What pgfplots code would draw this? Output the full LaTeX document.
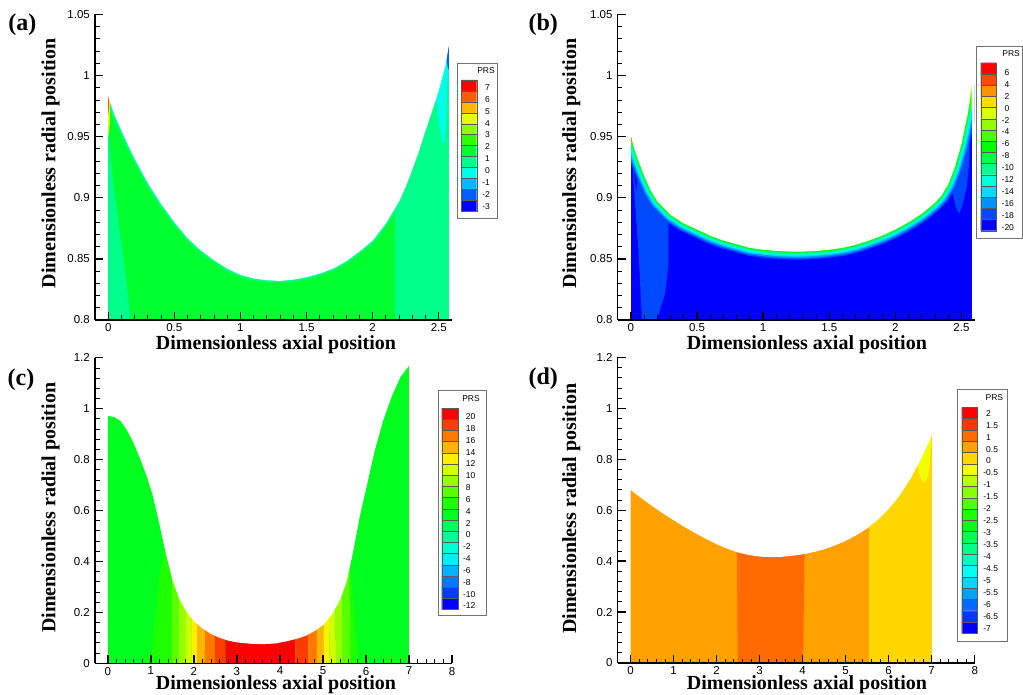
\documentclass[border=0pt]{standalone}
\usepackage{fontspec}
\setmainfont{Liberation Sans}
\newfontfamily\tnr{Liberation Serif}
\usepackage{pgfplots}
\usepackage{pgfplotstable}
\pgfplotsset{compat=1.18}

\newcommand\defcmap[2]{%
  \pgfplotsforeachungrouped \ii in {1,...,#2}{%
    \pgfmathsetmacro\hh{(\ii-1)*240/(#2-1)}%
    \convertcolorspec{Hsb}{\hh,1,1}{rgb}\tmprgb
    \definecolor{#1\ii}{rgb}{\tmprgb}%
  }%
}
\defcmap{A}{12}
\defcmap{B}{15}
\defcmap{C}{18}
\defcmap{D}{20}

\protected\def\m{\llap{-}}
\newcommand\legfont{\fontsize{8.5}{9}\selectfont}

\newcommand\Swatches[6]{%
  \pgfplotsforeachungrouped \ii in {1,...,#2}{%
    \pgfmathsetmacro\ya{#5+(\ii-1)*#6}%
    \pgfmathsetmacro\yb{#5+\ii*#6}%
    \edef\tmp{\noexpand\addplot[fill=#1\ii, draw=black!65, line width=0.35pt] coordinates {(#3,\ya) (#4,\ya) (#4,\yb) (#3,\yb) (#3,\ya)};}%
    \tmp
  }%
}
\newcommand\Labels[4]{%
  \def\yy{#2}%
  \pgfplotsforeachungrouped \lab in {#4}{%
    \edef\tmp{\noexpand\node[anchor=west, inner sep=0pt, font=\noexpand\legfont] at (axis cs:#1,\yy) {\lab};}%
    \tmp
    \pgfmathsetmacro\yy{\yy+#3}%
  }%
}

\pgfplotstableread{
x y
0 0.983
0.02 0.976
0.05 0.967
0.1 0.955
0.15 0.943
0.2 0.932
0.3 0.912
0.4 0.895
0.5 0.880
0.6 0.867
0.7 0.857
0.8 0.849
0.9 0.842
1.0 0.837
1.1 0.834
1.2 0.8325
1.3 0.832
1.4 0.833
1.5 0.835
1.6 0.838
1.7 0.842
1.8 0.848
1.9 0.856
2.0 0.865
2.1 0.879
2.2 0.897
2.25 0.909
2.3 0.923
2.35 0.938
2.4 0.955
2.45 0.971
2.5 0.988
2.55 1.008
2.58 1.027
}\curveA

\pgfplotstableread{
x y
0 0.951
0.02 0.942
0.05 0.932
0.1 0.918
0.15 0.906
0.2 0.897
0.3 0.886
0.4 0.879
0.5 0.874
0.6 0.869
0.7 0.865
0.8 0.862
0.9 0.859
1.0 0.8575
1.1 0.8565
1.2 0.856
1.3 0.856
1.4 0.8565
1.5 0.8575
1.6 0.859
1.7 0.8615
1.8 0.865
1.9 0.869
2.0 0.874
2.1 0.880
2.2 0.887
2.3 0.896
2.35 0.902
2.4 0.911
2.45 0.925
2.5 0.944
2.55 0.970
2.58 0.993
}\curveB

\pgfplotstableread{
x y
0 0.972
0.15 0.968
0.3 0.952
0.45 0.915
0.6 0.865
0.75 0.805
0.9 0.738
1.05 0.657
1.2 0.547
1.35 0.430
1.5 0.328
1.65 0.258
1.8 0.210
2.0 0.166
2.2 0.137
2.4 0.115
2.6 0.100
2.8 0.089
3.0 0.082
3.3 0.077
3.6 0.075
3.9 0.078
4.2 0.088
4.4 0.097
4.6 0.108
4.8 0.126
5.0 0.150
5.2 0.190
5.4 0.250
5.55 0.320
5.7 0.440
5.85 0.575
6.0 0.685
6.2 0.835
6.4 0.955
6.6 1.050
6.8 1.125
7.0 1.170
}\curveC

\pgfplotstableread{
x y
0 0.680
0.25 0.648
0.5 0.617
0.75 0.588
1.0 0.561
1.25 0.535
1.5 0.511
1.75 0.488
2.0 0.467
2.25 0.449
2.5 0.434
2.75 0.424
3.0 0.418
3.25 0.416
3.5 0.417
3.75 0.421
4.0 0.427
4.25 0.436
4.5 0.447
4.75 0.462
5.0 0.480
5.25 0.502
5.5 0.529
5.75 0.563
6.0 0.605
6.25 0.657
6.5 0.722
6.75 0.800
7.0 0.893
}\curveD

% top corners closing the white area above each profile
\pgfplotstableread{
x y
2.58 1.2
0 1.2
}\capAB
\pgfplotstableread{
x y
7 1.3
0 1.3
}\capCD
\pgfplotstablevertcat{\maskA}{\curveA}
\pgfplotstablevertcat{\maskA}{\capAB}
\pgfplotstablevertcat{\maskB}{\curveB}
\pgfplotstablevertcat{\maskB}{\capAB}
\pgfplotstablevertcat{\maskC}{\curveC}
\pgfplotstablevertcat{\maskC}{\capCD}
\pgfplotstablevertcat{\maskD}{\curveD}
\pgfplotstablevertcat{\maskD}{\capCD}

\pgfplotsset{
  panel/.style={
    scale only axis, width=357pt, height=305.5pt, anchor=south west,
    axis lines*=left,
    axis line style={-, line width=1.4pt},
    tick align=inside,
    major tick length=8pt, minor tick length=4.5pt,
    every tick/.style={black},
    major tick style={line width=1.4pt},
    minor tick style={line width=0.9pt},
    minor tick num=4,
    axis on top,
    ticklabel style={font=\fontsize{11.5}{13}\selectfont, inner sep=0pt},
    xticklabel style={yshift=-3.5pt},
    yticklabel style={xshift=-5pt},
    /pgf/number format/assume math mode=true,
    xlabel={Dimensionless axial position},
    ylabel={Dimensionless radial position},
    label style={font=\tnr\bfseries\fontsize{20}{24}\selectfont, inner sep=0pt},
  },
  legbox/.style={
    scale only axis, anchor=north west, xmin=0, ymin=0, y dir=reverse,
    xtick=\empty, ytick=\empty, clip=false,
    axis line style={draw=black!55, line width=0.6pt},
  },
}

\begin{document}
\begin{tikzpicture}[x=1pt,y=1pt]
\path[use as bounding box] (0,0) rectangle (1023,694);

% ---------------- (a)
\begin{axis}[panel, at={(95pt,374pt)}, xmin=-0.1, xmax=2.6, ymin=0.8, ymax=1.05,
  xtick={0,0.5,1,1.5,2,2.5}, ytick={0.8,0.85,0.9,0.95,1,1.05},
  xlabel style={at={(axis description cs:0.507,0)}, anchor=base, yshift=-30pt},
  ylabel style={at={(axis description cs:-0.1248,0.5126)}, anchor=center}]
\addplot[draw=none, fill=A7] table {\curveA} \closedcycle;
\addplot[draw=none, fill=A8] coordinates {(0,0.75) (0.17,0.75) (0.169,0.8) (0.15,0.82) (0.118,0.849) (0.09,0.87) (0.055,0.898) (0.02,0.93) (0,0.955)};
\addplot[draw=none, fill=A8] coordinates {(2.17,0.75) (2.58,0.75) (2.58,1.1) (2.17,1.1)};
\addplot[A8, line width=4pt, line join=round] table {\curveA};
\addplot[draw=none, fill=A9] coordinates {(2.46,1.05) (2.47,0.99) (2.49,0.97) (2.51,0.955) (2.53,0.944) (2.545,0.946) (2.555,0.96) (2.565,0.99) (2.58,1.02) (2.58,1.05)};
\addplot[draw=none, fill=A11] coordinates {(2.555,1.05) (2.56,1.012) (2.57,1.005) (2.58,1.005) (2.58,1.05)};
\addplot[draw=none, fill=A4] coordinates {(0,0.95) (0.012,0.96) (0.014,1.0) (0,1.0)};
\addplot[draw=none, fill=A2] coordinates {(0,0.968) (0.007,0.974) (0.007,1.0) (0,1.0)};
\addplot[draw=none, fill=white] table {\maskA};
\addplot[draw=none, fill=white] coordinates {(-0.1,0.79) (0,0.79) (0,1.1) (-0.1,1.1)};
\addplot[draw=none, fill=white] coordinates {(2.58,0.79) (2.62,0.79) (2.62,1.1) (2.58,1.1)};
\end{axis}

% ---------------- (b)
\begin{axis}[panel, at={(617.7pt,374pt)}, xmin=-0.1, xmax=2.6, ymin=0.8, ymax=1.05,
  xtick={0,0.5,1,1.5,2,2.5}, ytick={0.8,0.85,0.9,0.95,1,1.05},
  xlabel style={at={(axis description cs:0.530,0)}, anchor=base, yshift=-30pt},
  ylabel style={at={(axis description cs:-0.130,0.5126)}, anchor=center}]
\addplot[draw=none, fill=B15] table {\curveB} \closedcycle;
\addplot[draw=none, fill=B14] coordinates {(0,0.96) (0.285,0.90) (0.284,0.882) (0.284,0.846) (0.259,0.822) (0.196,0.8) (0.083,0.8) (0.058,0.855) (0.025,0.905) (0.007,0.934) (0,0.94)};
\addplot[draw=none, fill=B15] coordinates {(0.013,0.94) (0.013,0.93) (0.04,0.905) (0.058,0.925) (0.06,0.94)};
\addplot[draw=none, fill=B14] coordinates {(2.40,0.96) (2.40,0.93) (2.43,0.905) (2.46,0.892) (2.482,0.887) (2.51,0.895) (2.54,0.909) (2.555,0.925) (2.563,0.945) (2.57,0.98) (2.57,1.0)};
\addplot[B14, line width=16pt, line join=round] table {\curveB};
\addplot[B13, line width=13pt, line join=round] table {\curveB};
\addplot[B12, line width=10pt, line join=round] table {\curveB};
\addplot[B11, line width=7.5pt, line join=round] table {\curveB};
\addplot[B10, line width=5pt, line join=round] table {\curveB};
\addplot[B9, line width=3pt, line join=round] table {\curveB};
\addplot[B8, line width=1.5pt, line join=round] table {\curveB};
\addplot[draw=none, fill=B3] coordinates {(0,0.943) (0.008,0.944) (0.008,0.97) (0,0.97)};
\addplot[draw=none, fill=B1] coordinates {(0,0.947) (0.004,0.948) (0.004,0.97) (0,0.97)};
\addplot[draw=none, fill=B6] coordinates {(2.572,0.975) (2.58,0.97) (2.58,1.0) (2.57,1.0)};
\addplot[draw=none, fill=white] table {\maskB};
\addplot[draw=none, fill=white] coordinates {(-0.1,0.79) (0,0.79) (0,1.1) (-0.1,1.1)};
\addplot[draw=none, fill=white] coordinates {(2.58,0.79) (2.62,0.79) (2.62,1.1) (2.58,1.1)};
\end{axis}

% ---------------- (c)
\begin{axis}[panel, at={(95pt,30.7pt)}, xmin=-0.3, xmax=8, ymin=0, ymax=1.2,
  xtick={0,1,2,3,4,5,6,7,8}, ytick={0,0.2,0.4,0.6,0.8,1,1.2},
  xlabel style={at={(axis description cs:0.507,0)}, anchor=base, yshift=-26.5pt},
  ylabel style={at={(axis description cs:-0.1248,0.509)}, anchor=center}]
\addplot[draw=none, fill=C10] table {\curveC} \closedcycle;
\addplot[draw=none, fill=C9] coordinates {(1.0,0) (1.2,0.35) (1.33,0.45) (1.35,1.3) (1.52,1.3) (1.48,0)};
\addplot[draw=none, fill=C8] coordinates {(1.48,0) (1.52,1.3) (1.69,1.3) (1.65,0)};
\addplot[draw=none, fill=C7] coordinates {(1.65,0) (1.69,1.3) (1.85,1.3) (1.81,0)};
\addplot[draw=none, fill=C6] coordinates {(1.81,0) (1.85,1.3) (1.98,1.3) (1.94,0)};
\addplot[draw=none, fill=C5] coordinates {(1.94,0) (1.98,1.3) (2.11,1.3) (2.07,0)};
\addplot[draw=none, fill=C4] coordinates {(2.07,0) (2.11,1.3) (2.29,1.3) (2.25,0)};
\addplot[draw=none, fill=C3] coordinates {(2.25,0) (2.29,1.3) (2.52,1.3) (2.48,0)};
\addplot[draw=none, fill=C2] coordinates {(2.48,0) (2.52,1.3) (2.77,1.3) (2.73,0)};
\addplot[draw=none, fill=C1] coordinates {(2.73,0) (2.77,1.3) (4.32,1.3) (4.36,0)};
\addplot[draw=none, fill=C2] coordinates {(4.36,0) (4.32,1.3) (4.62,1.3) (4.66,0)};
\addplot[draw=none, fill=C3] coordinates {(4.66,0) (4.62,1.3) (4.82,1.3) (4.86,0)};
\addplot[draw=none, fill=C4] coordinates {(4.86,0) (4.82,1.3) (4.98,1.3) (5.02,0)};
\addplot[draw=none, fill=C5] coordinates {(5.02,0) (4.98,1.3) (5.11,1.3) (5.15,0)};
\addplot[draw=none, fill=C6] coordinates {(5.15,0) (5.11,1.3) (5.26,1.3) (5.30,0)};
\addplot[draw=none, fill=C7] coordinates {(5.30,0) (5.26,1.3) (5.42,1.3) (5.46,0)};
\addplot[draw=none, fill=C8] coordinates {(5.46,0) (5.42,1.3) (5.59,1.3) (5.63,0)};
\addplot[draw=none, fill=C9] coordinates {(5.63,0) (5.83,0) (5.64,0.37) (5.60,1.3)};
\addplot[draw=none, fill=white] table {\maskC};
\end{axis}

% ---------------- (d)
\begin{axis}[panel, at={(617.7pt,31pt)}, xmin=-0.3, xmax=8, ymin=0, ymax=1.2,
  xtick={0,1,2,3,4,5,6,7,8}, ytick={0,0.2,0.4,0.6,0.8,1,1.2},
  xlabel style={at={(axis description cs:0.530,0)}, anchor=base, yshift=-26.5pt},
  ylabel style={at={(axis description cs:-0.130,0.5046)}, anchor=center}]
\addplot[draw=none, fill=D4] table {\curveD} \closedcycle;
\addplot[draw=none, fill=D3] coordinates {(2.49,0) (2.47,0.5) (4.05,0.5) (4.01,0)};
\addplot[draw=none, fill=D5] coordinates {(5.55,0) (5.55,0.9) (7,0.9) (7,0)};
\addplot[draw=none, fill=D6] coordinates {(6.64,0.9) (6.64,0.80) (6.70,0.75) (6.76,0.72) (6.83,0.708) (6.9,0.725) (6.95,0.77) (6.98,0.85) (7.0,0.9)};
\addplot[draw=none, fill=white] table {\maskD};
\end{axis}

% ---------------- legends
\begin{axis}[legbox, at={(457.3pt,630.7pt)}, width=40pt, height=155pt, xmax=40, ymax=155]
\Swatches{A}{12}{3.7}{19.4}{16.7}{10.92}
\Labels{27.7}{24}{11.94}{7,6,5,4,3,2,1,0,\m1,\m2,\m3}
\node[anchor=east, inner sep=0pt, font=\legfont] at (axis cs:37.7,7.2) {PRS};
\end{axis}

\begin{axis}[legbox, at={(976.7pt,647.3pt)}, width=45.5pt, height=191.6pt, xmax=45.5, ymax=191.6]
\Swatches{B}{15}{4}{19.3}{16}{11.2}
\Labels{27.6}{25.6}{11.95}{6,4,2,0,\m2,\m4,\m6,\m8,\m10,\m12,\m14,\m16,\m18,\m20}
\node[anchor=east, inner sep=0pt, font=\legfont] at (axis cs:43.3,7.3) {PRS};
\end{axis}

\begin{axis}[legbox, at={(438.3pt,303.3pt)}, width=48pt, height=225pt, xmax=48, ymax=225]
\Swatches{C}{18}{3.4}{20}{17.3}{11.2}
\Labels{27.4}{26}{11.83}{20,18,16,14,12,10,8,6,4,2,0,\m2,\m4,\m6,\m8,\m10,\m12}
\node[anchor=east, inner sep=0pt, font=\legfont] at (axis cs:41.7,8.3) {PRS};
\end{axis}

\begin{axis}[legbox, at={(957.7pt,304.7pt)}, width=49.6pt, height=252.4pt, xmax=49.6, ymax=252.4]
\Swatches{D}{20}{4}{19.6}{18}{11.3}
\Labels{28.3}{24}{11.94}{2,1.5,1,0.5,0,\m0.5,\m1,\m1.5,\m2,\m2.5,\m3,\m3.5,\m4,\m4.5,\m5,\m5.5,\m6,\m6.5,\m7}
\node[anchor=east, inner sep=0pt, font=\legfont] at (axis cs:45.6,8.2) {PRS};
\end{axis}

\node[font=\tnr\bfseries\fontsize{24}{26}\selectfont] at (22.3,669) {(a)};
\node[font=\tnr\bfseries\fontsize{24}{26}\selectfont] at (543.3,669) {(b)};
\node[font=\tnr\bfseries\fontsize{24}{26}\selectfont] at (21,314) {(c)};
\node[font=\tnr\bfseries\fontsize{24}{26}\selectfont] at (543.3,315) {(d)};
\end{tikzpicture}
\end{document}
